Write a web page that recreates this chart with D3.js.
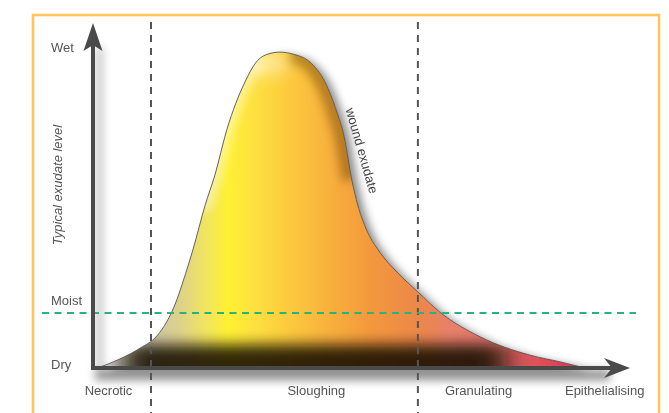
<!DOCTYPE html>
<html><head><meta charset="utf-8">
<script src="https://cdn.jsdelivr.net/npm/d3@7"></script>
<style>html,body{margin:0;padding:0;background:#fff;} svg{display:block;}</style>
</head><body>
<script>
// ---- data ----
const progress = [0.9, 5.0, 8.8, 11.9, 13.8, 15.3, 16.8, 18.6, 20.9, 22.7, 24.9, 28.3, 30.4, 32.6, 34.8, 37.2, 40.4, 43.2, 45.4, 46.7, 48.2, 49.3, 50.8, 53.4, 56.6, 60.5, 64.6, 72.1, 81.4, 87.0, 91.6];
const exudate  = [0,   2.8, 6.2, 10.0, 14.6, 19.9, 27.1, 36.8, 50.8, 60.1, 74.1, 89.1, 95.3, 97.8, 98.4, 97.8, 95.3, 89.1, 79.8, 72.6, 58.6, 50.8, 43.6, 36.1, 29.9, 23.7, 17.4, 9.7,  4.0,  1.9,  0];
const stageNames = ["Necrotic", "Sloughing", "Granulating", "Epithelialising"];
const stageLabelPos = [2.8, 41.5, 71.7, 95.2];
const stageBoundaries = [10.8, 60.5];
const levelNames = ["Dry", "Moist", "Wet"];
const levelLabelPos = [1, 21, 100];
const moistLevel = 17.1;
const seriesLabel = "wound exudate";
const yTitle = "Typical exudate level";
const gradientPos = [1.3, 10.6, 16.2, 20.9, 25.1, 30.2, 36.7, 44.1, 51.6, 60.5, 66.5, 73.9, 83.2, 91.6];
const gradientColors = ["#e8e6de", "#cbc6ac", "#ddd28a", "#f0e460", "#fff033", "#fde040", "#fcc93c", "#f8b03c", "#f4983e", "#ec8848", "#e8806a", "#e57670", "#df5058", "#d83050"];

// ---- setup ----
const W = 669, H = 413;
const svg = d3.select("body").append("svg").attr("width", W).attr("height", H);
const x = d3.scaleLinear().domain([0, 100]).range([93, 630]);
const y = d3.scaleLinear().domain([0, 100]).range([368, 47]);
const defs = svg.append("defs");
const font = "'Liberation Sans', Arial, sans-serif";

const pts = progress.map((p, i) => [p, exudate[i]]);
const area = d3.area().x(d => x(d[0])).y0(y(0)).y1(d => y(d[1])).curve(d3.curveMonotoneX);
const line = d3.line().x(d => x(d[0])).y(d => y(d[1])).curve(d3.curveMonotoneX);
const curveCat = d3.line().x(d => x(d[0])).y(d => y(d[1])).curve(d3.curveCatmullRom);

// gradient
const grad = defs.append("linearGradient").attr("id", "fillGrad")
  .attr("gradientUnits", "userSpaceOnUse")
  .attr("x1", x(0)).attr("x2", x(100)).attr("y1", 0).attr("y2", 0);
gradientPos.forEach((p, i) => grad.append("stop").attr("offset", p / 100).attr("stop-color", gradientColors[i]));

// filters
function blurFilter(id, sd) {
  defs.append("filter").attr("id", id).attr("filterUnits", "userSpaceOnUse")
    .attr("x", 0).attr("y", 0).attr("width", W).attr("height", H)
    .append("feGaussianBlur").attr("stdDeviation", sd);
}
blurFilter("blurBand", "14 7");
blurFilter("blur5", 5);
blurFilter("blur8", 8);
blurFilter("blurAxis", "4 5");
const sh = defs.append("filter").attr("id", "areaShadow").attr("filterUnits", "userSpaceOnUse")
  .attr("x", 0).attr("y", 0).attr("width", W).attr("height", H);
sh.append("feDropShadow").attr("dx", 6).attr("dy", 3).attr("stdDeviation", 4.5).attr("flood-color", "#000").attr("flood-opacity", 0.45);

defs.append("clipPath").attr("id", "areaClip").append("path").attr("d", area(pts));

// ---- frame ----
svg.append("rect").attr("x", 33).attr("y", 15).attr("width", 626).attr("height", 430)
  .attr("fill", "none").attr("stroke", "#ffc55c").attr("stroke-width", 2.6);

const x0 = x(0), y0 = y(0), yTop = y(100), xEnd = x(100);

// ---- axis shadows ----
const axShadow = svg.append("g").attr("filter", "url(#blurAxis)").attr("fill", "#000");
axShadow.append("rect").attr("x", x0 + 2).attr("y", y0 + 2).attr("width", xEnd - 22 - x0).attr("height", 10).attr("opacity", 0.45);
axShadow.append("rect").attr("x", x0 + 3).attr("y", yTop).attr("width", 7).attr("height", y0 - yTop).attr("opacity", 0.22);

// ---- area ----
svg.append("path").attr("d", area(pts)).attr("fill", "url(#fillGrad)").attr("filter", "url(#areaShadow)");

const inner = svg.append("g").attr("clip-path", "url(#areaClip)");
// dark band at bottom
inner.append("rect").attr("x", x(5.5)).attr("y", y(7.2)).attr("width", x(77) - x(5.5)).attr("height", 45)
  .attr("fill", "#120a02").attr("opacity", 0.88).attr("filter", "url(#blurBand)");
// inner shading on right flank of the peak
const rightSeg = pts.filter(d => d[0] >= 36 && d[0] <= 48.2);
inner.append("path").attr("d", curveCat(rightSeg)).attr("fill", "none").attr("stroke", "#6b4000")
  .attr("stroke-width", 16).attr("stroke-linecap", "butt").attr("opacity", 0.45)
  .attr("transform", "translate(-2,0)").attr("filter", "url(#blur5)");
// highlight on left flank
const leftSeg = pts.filter(d => d[0] >= 19 && d[0] <= 31);
inner.append("path").attr("d", curveCat(leftSeg)).attr("fill", "none").attr("stroke", "#ffffff")
  .attr("stroke-width", 14).attr("stroke-linecap", "round").attr("opacity", 0.45).attr("filter", "url(#blur5)");
// highlight at top
inner.append("ellipse").attr("cx", x(32)).attr("cy", y(95)).attr("rx", 24).attr("ry", 13)
  .attr("fill", "#fffbe8").attr("opacity", 0.5).attr("filter", "url(#blur8)");

svg.append("path").attr("d", line(pts)).attr("fill", "none").attr("stroke", "#555").attr("stroke-width", 0.9);

// ---- dashed guides ----
svg.selectAll(".stageLine").data(stageBoundaries).enter().append("line")
  .attr("x1", d => x(d)).attr("x2", d => x(d)).attr("y1", 22).attr("y2", H)
  .attr("stroke", "#555").attr("stroke-width", 2).attr("stroke-dasharray", "7,6");
svg.append("line").attr("x1", 42).attr("x2", 636).attr("y1", y(moistLevel)).attr("y2", y(moistLevel))
  .attr("stroke", "#25b47c").attr("stroke-width", 2).attr("stroke-dasharray", "7,5.5");

// ---- axes ----
const ax = svg.append("g");
ax.append("line").attr("x1", x0).attr("x2", x0).attr("y1", y0 + 2).attr("y2", yTop - 2)
  .attr("stroke", "#4a4a4a").attr("stroke-width", 4);
ax.append("path").attr("d", `M${x0},${yTop - 24} L${x0 + 9.5},${yTop + 4} L${x0},${yTop - 2} L${x0 - 9.5},${yTop + 4} Z`).attr("fill", "#4a4a4a");
ax.append("line").attr("x1", x0 - 2).attr("x2", xEnd - 18).attr("y1", y0).attr("y2", y0)
  .attr("stroke", "#4a4a4a").attr("stroke-width", 4);
ax.append("path").attr("d", `M${xEnd},${y0} L${xEnd - 26},${y0 - 10} L${xEnd - 18},${y0} L${xEnd - 26},${y0 + 10} Z`).attr("fill", "#4a4a4a");

// y level labels
const yAxis = svg.append("g").attr("transform", "translate(51,0)")
  .call(d3.axisLeft(y).tickValues(levelLabelPos).tickFormat((d, i) => levelNames[i]).tickSize(0).tickPadding(0));
yAxis.select(".domain").remove();
yAxis.selectAll("text").attr("text-anchor", "start").attr("font-family", font).attr("font-size", 13).attr("fill", "#555");

// x stage labels
const xAxis = svg.append("g").attr("transform", `translate(0,${y0})`)
  .call(d3.axisBottom(x).tickValues(stageLabelPos).tickFormat((d, i) => stageNames[i]).tickSize(0).tickPadding(18));
xAxis.select(".domain").remove();
xAxis.selectAll("text").attr("font-family", font).attr("font-size", 13).attr("fill", "#555");

// y title
svg.append("text").attr("transform", "translate(57,185) rotate(-90)")
  .attr("text-anchor", "middle").attr("dominant-baseline", "central")
  .attr("font-family", font).attr("font-style", "italic").attr("font-size", 13).attr("fill", "#555")
  .text(yTitle);

// series label
svg.append("text").attr("transform", `translate(${x(47)},${y(80.5)}) rotate(74)`)
  .attr("font-family", font).attr("font-size", 13).attr("fill", "#444")
  .text(seriesLabel);
</script>
</body></html>
